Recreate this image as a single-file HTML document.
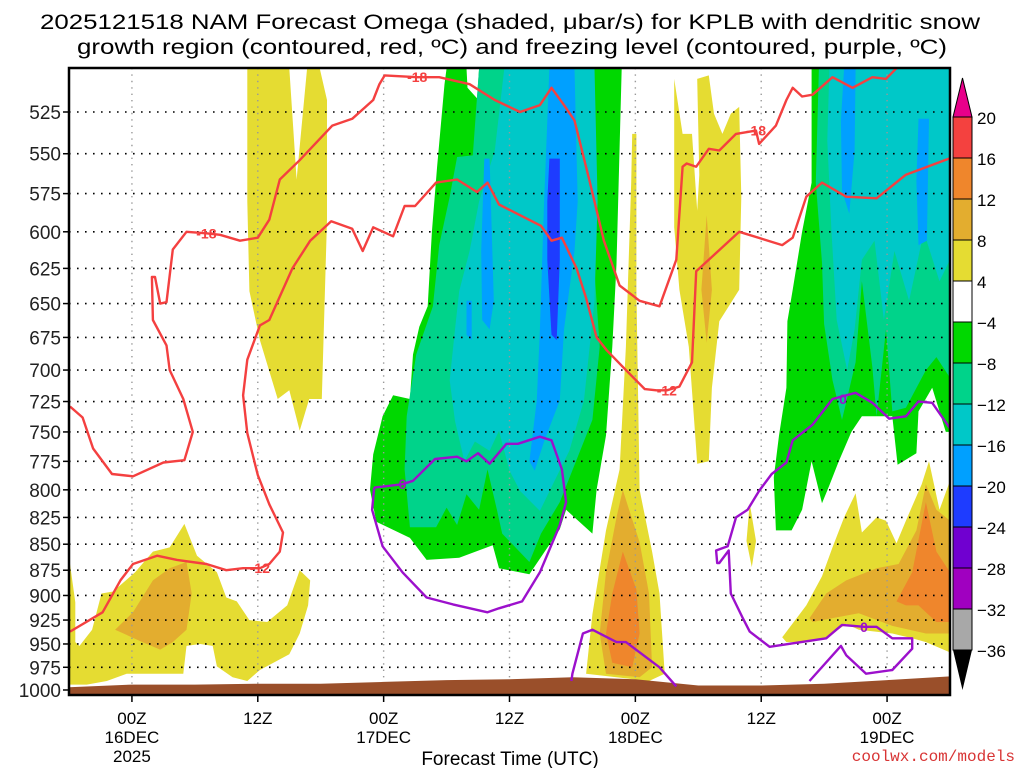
<!DOCTYPE html>
<html><head><meta charset="utf-8"><style>
html,body{margin:0;padding:0;background:#fff}
svg{display:block;font-family:"Liberation Sans",sans-serif}
</style></head><body>
<svg id="chart" width="1024" height="768" viewBox="0 0 1024 768">
<text x="510" y="29" text-anchor="middle" font-size="21" textLength="940" lengthAdjust="spacingAndGlyphs">2025121518 NAM Forecast Omega (shaded, μbar/s) for KPLB with dendritic snow</text>
<text x="512" y="54" text-anchor="middle" font-size="21" textLength="870" lengthAdjust="spacingAndGlyphs">growth region (contoured, red, ºC) and freezing level (contoured, purple, ºC)</text>
<g id="plot"></g>
<g id="axes"></g>
<g id="cbar"></g>
<text x="510" y="765" text-anchor="middle" font-size="19">Forecast Time (UTC)</text>
<text x="1015" y="761" text-anchor="end" font-size="16" fill="#d83434" font-family="Liberation Mono, monospace">coolwx.com/models</text>
</svg>
<script>
const pressureTicks=[525,550,575,600,625,650,675,700,725,750,775,800,825,850,875,900,925,950,975,1000];
const timeTickHours=[6,18,30,42,54,66,78];
const timeTickLabels=[["00Z","16DEC","2025"],["12Z"],["00Z","17DEC"],["12Z"],["00Z","18DEC"],["12Z"],["00Z","19DEC"]];
const cbarLevels=[20,16,12,8,4,-4,-8,-12,-16,-20,-24,-28,-32,-36];
const cbarColors=["#f4413f","#ef862c","#e3ad2f","#e5dc32","#ffffff","#00d800","#00d38a","#00c8c8","#00a0ff","#1e3cff","#7000d0","#a000c0","#a8a8a8"];
const terrainHours=[0,6,12,18,24,30,36,42,48,54,60,66,72,78,84];
const terrainP=[997,994,994,993,993,991,989,988,986,988,995,995,993,989,985];
// shaded omega polygons: [hour, hPa]
const yellowLeft=[[0,862],[0.6,907],[0.6,948],[1,952],[2.2,935],[3.1,898],[4.2,896],[6.3,877],[8,857],[9.6,853],[11,831],[12.2,861],[14.1,877],[15,902],[16,906],[17.2,925],[18.9,927],[20.8,910],[22,875],[23,885],[22.8,910],[22,939],[21,961],[18.2,978],[17,990],[15.6,986],[14.1,974],[13.7,952],[12.5,950],[11.2,952],[10.9,982],[5.5,982],[3.6,990],[1.7,994],[0,994]];
const ambLeft=[[11.2,867],[11.7,898],[11.2,935],[9.9,948],[8.7,956],[7,948],[4.4,935],[6.1,917],[8,885],[9.6,873]];
const yellowCol=[[17,500],[21,500],[21.7,566],[22.7,500],[23.9,500],[24.6,518],[24.6,592],[24.1,723],[22.9,723],[22,749],[21,716],[19.9,723],[18.2,677],[17.2,641],[17,580]];
const greenC=[[36,500],[37.9,500],[38,511],[38.9,517],[39.1,500],[52.7,500],[52.2,622],[51.8,682],[51.2,753],[50.3,800],[49.9,840],[47.4,818],[46.8,836],[43.9,879],[41,873],[40.4,851],[37.2,863],[34.1,865],[32.5,844],[29.3,829],[28.7,800],[29,769],[29.9,737],[30.9,720],[32.5,723],[32.8,688],[33.4,667],[34.2,652],[34.6,600],[35.1,558],[35.8,509]];
const tealC=[[39.1,500],[49.6,500],[49.9,606],[50.6,682],[49.9,740],[46.8,811],[45,840],[43.9,867],[41.3,840],[40.8,818],[39.9,782],[39.1,818],[37.9,804],[37,832],[36,816],[35,834],[32.5,834],[32,782],[32.2,737],[33.1,688],[34.7,652],[35.3,609],[36.3,577],[37,552],[38.5,551]];
const cyanC=[[41.5,500],[50.1,500],[50.4,580],[50.1,648],[49.1,724],[47.7,766],[46.3,792],[44.9,819],[43,801],[42,783],[41,749],[40.1,766],[38.7,758],[37.7,775],[36.8,741],[36.3,708],[36.8,669],[37.2,641],[38.2,613],[39.1,580],[40.6,548]];
const blueC=[[45.8,500],[48.2,500],[48.5,580],[48.2,613],[47.2,669],[46.8,724],[45.3,758],[44.4,783],[43.9,775],[44.6,724],[44.9,669],[45.3,580]];
const blueC2=[[39.6,553],[40.1,553],[40.5,648],[40.1,669],[39.4,662],[39.3,613]];
const blueC3=[[37.9,648],[38.4,648],[38.4,677],[37.9,673]];
const dblueC=[[45.8,553],[46.8,553],[46.8,619],[46.5,677],[46,673],[45.6,619],[45.6,580]];
const yellowMid=[[53.7,538],[54.1,538],[54.1,640],[54.4,800],[55.6,857],[56.3,898],[56.8,982],[55.3,990],[49.3,982],[49.9,919],[51.2,837],[52.5,782],[53.1,682],[53.6,568]];
const ambMid=[[52.8,800],[53.4,818],[54.4,848],[55.3,898],[55.6,975],[54.4,986],[51.2,982],[50.6,939],[51.2,877],[52.2,825]];
const orangeMid=[[52.8,857],[54.1,894],[54.4,939],[53.7,975],[51.8,970],[51.2,939],[51.8,898]];
const yellowUp=[[57.7,506],[58.5,538],[59.4,538],[59.9,586],[60.1,563],[59.9,506],[61,504],[61.5,526],[62.3,538],[63.1,526],[63.9,522],[64.1,577],[63.9,640],[62,663],[61.3,714],[61,775],[59.9,777],[59.6,740],[59.1,682],[58.2,640],[57.7,597]];
const ambUp=[[60.8,589],[61.3,640],[60.8,679],[60.3,640]];
const yellowDot=[[64.9,812],[65.5,847],[65.1,872],[64.6,847]];
const greenR=[[70.8,500],[84,500],[84,750],[83.6,750],[82.3,714],[81,733],[80.8,768],[79,778],[78.5,737],[77,737],[75.6,737],[74.6,750],[73.4,775],[72.5,796],[71.8,812],[70.8,775],[69.9,818],[68.9,837],[67.4,837],[67.2,789],[67.7,753],[68.4,714],[68.5,663],[69,640],[69.9,600],[70.8,568]];
const tealR=[[71.5,500],[84,500],[84,706],[82.7,690],[81.7,700],[79.8,730],[78.5,733],[77.9,669],[77,737],[76.6,698],[75.6,634],[75,694],[73.7,740],[72.8,708],[72,665],[71.8,621],[71.2,568]];
const cyanR=[[72.5,500],[84,500],[84,619],[83,634],[81.5,600],[80.1,648],[78.7,613],[77.7,662],[76.8,606],[75.6,619],[74.9,669],[74.2,700],[73.2,662],[72.7,600],[72.3,542]];
const blueR1=[[73.9,500],[75,500],[74.9,548],[74.4,588],[73.7,573],[73.6,530]];
const blueR2=[[81,529],[82,529],[81.8,606],[81,609],[80.8,567]];
const yellowR=[[68,943],[70.3,910],[71.8,881],[72.8,853],[73.9,825],[75,803],[75.6,839],[77,825],[77.9,828],[78.9,849],[79.8,828],[81.3,795],[82,775],[83,818],[84,792],[84,959],[81.7,948],[80.4,944],[78.5,939],[75.3,935],[74.1,929],[72.2,944],[70.6,948],[68.4,948]];
const ambR=[[70.6,923],[72.2,898],[74.1,885],[77,873],[79.1,869],[80.8,837],[81.7,795],[82.7,818],[84,828],[84,939],[81.7,939],[78.5,931],[75.3,918],[72.8,923],[70.9,927]];
const orangeR=[[78.9,906],[80.4,877],[81.7,811],[82.7,857],[84,877],[84,927],[82.7,927],[81,910],[79.8,910]];
// contours
const contourM18=[[0.1,729],[1.3,738],[2.3,764],[4.1,786],[6.1,788],[9,776],[11,774],[11.8,750],[10.9,723],[9.6,700],[9.3,681],[8,662],[7.9,631],[8.2,631],[8.7,650],[9.3,649],[9.9,612],[11.2,600],[13.1,601],[14.4,602],[16.3,606],[18,604],[19.1,592],[20.1,566],[22,554],[25.1,533],[27,529],[29,518],[29.6,509],[30.1,504],[33.2,505],[35.3,505],[38.2,509],[40.6,518],[43,525],[44.9,521],[46,511],[47.2,521],[48.2,530],[49.6,566],[51,606],[52.5,637],[54.4,648],[56.3,652],[57.9,619],[58.5,558],[58.9,556],[59.8,558],[61,547],[62,548],[63.6,538],[65.5,536],[65.8,544],[67.4,533],[68.4,518],[69,511],[69.9,516],[70.9,515],[72.8,505],[74.7,511],[76.6,505],[77.9,506],[78.9,500]];
const contourM12=[[0.1,937],[3.2,917],[4.9,885],[6.1,869],[8.4,861],[10.3,865],[13.1,869],[15,875],[16.6,873],[18.2,873],[19.1,869],[20.1,857],[20.4,839],[19.1,813],[18,787],[17,751],[16.6,720],[17,692],[18.2,666],[19.1,662],[21.3,625],[23,606],[25,593],[27,598],[28,613],[29,597],[30.9,603],[32,583],[33,583],[35,568],[37,566],[38.9,574],[39.9,568],[41,582],[43,589],[45,596],[46,606],[47,604],[48.4,625],[49.3,646],[50.3,675],[51.3,685],[53.1,700],[54.9,715],[56,716],[57,716],[58.2,713],[59.4,694],[59.8,627],[63.9,600],[68,609],[69,604],[70.3,577],[71.8,568],[74.1,577],[77,578],[79.8,563],[83.9,553],[84,553]];
const freezeLoop=[[29.1,798],[28.9,818],[29.9,852],[31.8,877],[34.1,902],[36.6,909],[39.9,917],[41,913],[43.2,906],[44.9,877],[46.8,832],[47.4,811],[47,782],[46,757],[44.9,754],[42.8,760],[41.7,760],[40.1,777],[39,768],[37.9,775],[37,771],[34.9,773],[32.8,792],[31.8,795],[29.1,798]];
const freezeMid=[[47.9,990],[48,982],[49,939],[49.9,935],[52.2,948],[53.1,948],[56.3,975],[57.9,996]];
const freezeRight=[[84,747],[82.3,726],[81,725],[79.8,737],[78.2,739],[76.6,726],[75,718],[72.8,723],[70.9,744],[69,757],[68.4,776],[67,786],[65.8,801],[64.7,818],[63.6,825],[62.8,852],[61.7,856],[61.8,868],[62,868],[62.9,856],[63.1,898],[64.2,922],[64.9,937],[66.8,953],[72.2,944],[73.7,930],[75.8,932],[77,932],[78.5,944],[80.4,944],[80.4,955],[78.5,978],[76,982],[74.1,962],[73.6,952],[70.6,990]];
const contourLabels=[["-18",13.1,601,"#f44040"],["-18",33.2,505,"#f44040"],["-18",65.5,536,"#f44040"],["-12",18.2,873,"#f44040"],["-12",57,716,"#f44040"],["0",31.8,795,"#9c10cc"],["0",73.8,723,"#9c10cc"],["0",75.8,932,"#9c10cc"]];

const X0=69,X1=950,Y0=68,Y1=695,H0=0,H1=84;
function xs(h){return X0+(h-H0)/(H1-H0)*(X1-X0);}
function ys(p){return 112+897*Math.log(p/525);}
const NS="http://www.w3.org/2000/svg";
function mk(parent,tag,attrs){const e=document.createElementNS(NS,tag);for(const k in attrs)e.setAttribute(k,attrs[k]);parent.appendChild(e);return e;}
function pts(a){return a.map(d=>xs(d[0]).toFixed(1)+","+ys(d[1]).toFixed(1)).join(" ");}
const plot=document.getElementById("plot");
const defs=mk(plot,"defs",{});
const cp=mk(defs,"clipPath",{id:"clip"});
mk(cp,"rect",{x:X0,y:Y0,width:X1-X0,height:Y1-Y0});
const g=mk(plot,"g",{"clip-path":"url(#clip)"});
const shades=[[yellowLeft,"#e5dc32","shade-yellow-left"],[ambLeft,"#e3ad2f","shade-amber-left"],[yellowCol,"#e5dc32","shade-yellow-column"],[greenC,"#00d800","shade-green-center"],[tealC,"#00d38a","shade-teal-center"],[cyanC,"#00c8c8","shade-cyan-center"],[blueC,"#00a0ff","shade-blue-center"],[blueC2,"#00a0ff","shade-blue-strip"],[blueC3,"#00a0ff","shade-blue-strip2"],[dblueC,"#1e3cff","shade-darkblue-center"],[yellowMid,"#e5dc32","shade-yellow-mid"],[ambMid,"#e3ad2f","shade-amber-mid"],[orangeMid,"#ef862c","shade-orange-mid"],[yellowUp,"#e5dc32","shade-yellow-upper"],[ambUp,"#e3ad2f","shade-amber-upper"],[yellowDot,"#e5dc32","shade-yellow-small"],[greenR,"#00d800","shade-green-right"],[tealR,"#00d38a","shade-teal-right"],[cyanR,"#00c8c8","shade-cyan-right"],[blueR1,"#00a0ff","shade-blue-right1"],[blueR2,"#00a0ff","shade-blue-right2"],[yellowR,"#e5dc32","shade-yellow-right"],[ambR,"#e3ad2f","shade-amber-right"],[orangeR,"#ef862c","shade-orange-right"]];
shades.forEach(s=>{const e=mk(g,"polygon",{points:pts(s[0]),fill:s[1]});

});
// grid
pressureTicks.forEach(p=>{const e=mk(g,"line",{x1:X0,x2:X1,y1:ys(p),y2:ys(p),stroke:"#000","stroke-width":1.6,"stroke-dasharray":"1.6 6.4"});

});
timeTickHours.forEach(h=>{const e=mk(g,"line",{x1:xs(h),x2:xs(h),y1:Y0,y2:Y1,stroke:"#999","stroke-width":1.4,"stroke-dasharray":"1.4 5"});

});
// terrain
const terr=terrainHours.map((h,i)=>[h,terrainP[i]]);
const tp=pts(terr)+" "+xs(84)+","+Y1+" "+xs(0)+","+Y1;
const te=mk(g,"polygon",{points:tp,fill:"#9a4f2a"});


// contours
[[contourM18,"#f44040","contour-minus18"],[contourM12,"#f44040","contour-minus12"],[freezeLoop,"#9c10cc","freezing-level-loop"],[freezeMid,"#9c10cc","freezing-level-mid"],[freezeRight,"#9c10cc","freezing-level-right"]].forEach(c=>{
const e=mk(g,"polyline",{points:pts(c[0]),fill:"none",stroke:c[1],"stroke-width":2.4,"stroke-linejoin":"round"});

});
contourLabels.forEach(l=>{const x=xs(l[1]),y=ys(l[2]);
const r=mk(g,"rect",{x:x-(l[0].length*5+2),y:y-7,width:l[0].length*10+4,height:14,fill:"none"});
const t=mk(g,"text",{x:x,y:y+5,"text-anchor":"middle","font-size":14,"font-weight":"bold",fill:l[3]});t.textContent=l[0];

});
// frame and axes
const ax=document.getElementById("axes");
const fr=mk(ax,"rect",{x:X0,y:Y0,width:X1-X0,height:Y1-Y0,fill:"none",stroke:"#000","stroke-width":2.5});


pressureTicks.forEach(p=>{const y=ys(p);
mk(ax,"line",{x1:X0-6,x2:X0,y1:y,y2:y,stroke:"#000","stroke-width":1.5});
const t=mk(ax,"text",{x:61,y:y+7,"text-anchor":"end","font-size":19,fill:"#222"});t.textContent=p;

});
timeTickHours.forEach((h,i)=>{const x=xs(h);
mk(ax,"line",{x1:x,x2:x,y1:Y1,y2:Y1+7,stroke:"#000","stroke-width":1.5});
timeTickLabels[i].forEach((s,j)=>{const t=mk(ax,"text",{x:x,y:724+j*19,"text-anchor":"middle","font-size":17});t.textContent=s;

});});
// colorbar
const cb=document.getElementById("cbar");
const CBX=953,CBW=19,CBT=117,STEP=41;
cbarColors.forEach((c,i)=>{const e=mk(cb,"rect",{x:CBX,y:CBT+i*STEP,width:CBW,height:STEP,fill:c,stroke:"#000","stroke-width":1});

});
const tt=mk(cb,"polygon",{points:`${CBX},${CBT} ${CBX+CBW},${CBT} ${CBX+CBW/2},${CBT-39}`,fill:"#e8008a",stroke:"#000"});


const bt=mk(cb,"polygon",{points:`${CBX},${CBT+13*STEP} ${CBX+CBW},${CBT+13*STEP} ${CBX+CBW/2},${CBT+13*STEP+40}`,fill:"#000"});


cbarLevels.forEach((v,i)=>{const t=mk(cb,"text",{x:977,y:CBT+i*STEP+7,"font-size":17});t.textContent=v<0?"−"+(-v):v;

});
</script>
</body></html>
